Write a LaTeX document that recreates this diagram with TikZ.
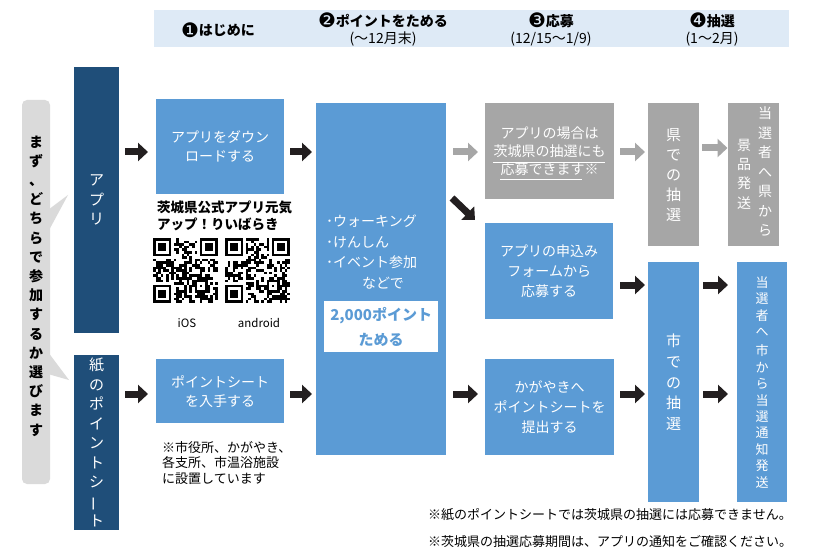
\documentclass[tikz,border=0pt]{standalone}
\usepackage{fontspec}
\setmainfont{Noto Sans CJK JP}
\newfontfamily\djv{DejaVu Sans}
\usetikzlibrary{arrows.meta}
\definecolor{hdrc}{HTML}{DEEAF6}
\definecolor{dblue}{HTML}{1F4E79}
\definecolor{mblue}{HTML}{5B9BD5}
\definecolor{mgray}{HTML}{A6A6A6}
\definecolor{lgray}{HTML}{DADADA}
\definecolor{ablk}{HTML}{231F20}
\newcommand\myqr[3]{%
  \pgfmathsetseed{#3}%
  \begin{scope}[shift={(#1,#2)},x=2.6pt,y=-2.6pt]
    \foreach \i in {0,...,24}{\foreach \j in {0,...,24}{%
      \pgfmathsetmacro\qrr{rnd}%
      \ifdim\qrr pt<0.5pt \fill[black] (\i,\j) rectangle ++(1.02,1.02);\fi}}
    \fill[white] (0,0) rectangle (8,8);
    \fill[white] (17,0) rectangle (25,8);
    \fill[white] (0,17) rectangle (8,25);
    \foreach \a/\b in {0/0,18/0,0/18}{%
      \fill[black] (\a,\b) rectangle ++(7,7);
      \fill[white] (\a+1,\b+1) rectangle ++(5,5);
      \fill[black] (\a+2,\b+2) rectangle ++(3,3);}
    \fill[black] (16,16) rectangle ++(5,5);
    \fill[white] (17,17) rectangle ++(3,3);
    \fill[black] (18,18) rectangle ++(1,1);
  \end{scope}}
\newcommand\cnum[1]{\raisebox{-1.5pt}{\djv\fontsize{20}{20}\selectfont #1}}
\begin{document}
\begin{tikzpicture}[x=1pt,y=-1pt,
  box/.style={rectangle, inner sep=0pt, anchor=north west, text=white, align=center,
    font=\fontsize{14}{19}\selectfont},
  bluebox/.style={box, fill=mblue},
  graybox/.style={box, fill=mgray},
  darkbox/.style={box, fill=dblue, font=\fontsize{15}{19.5}\selectfont},
  vtxt/.style={text=white, align=center, inner sep=0pt},
  hdtxt/.style={align=center, inner sep=0pt, font=\fontsize{14}{17}\selectfont},
  plain/.style={align=left, inner sep=0pt, text=black},
  blk/.style={draw=ablk, line width=7pt, -{Triangle[width=18pt,length=10pt]}},
  gry/.style={blk, draw=mgray}]
\useasboundingbox (0,0) rectangle (832,553);
\fill[white] (0,0) rectangle (832,553);

% header
\node[fill=hdrc, inner sep=0pt, minimum width=635pt, minimum height=37pt, anchor=north west] (hdr) at (154,10) {};
\node[hdtxt] (h1) at (218,30) {\cnum{❶}\bfseries はじめに};
\node[hdtxt] (h2) at (383,29.5) {\cnum{❷}\textbf{ポイントをためる}\\(〜12月末)};
\node[hdtxt] (h3) at (551,29.5) {\cnum{❸}\textbf{応募}\\(12/15〜1/9)};
\node[hdtxt] (h4) at (712,29.5) {\cnum{❹}\textbf{抽選}\\(1〜2月)};

% left bubble
\fill[lgray, rounded corners=5pt] (22,100) rectangle (50,484);
\fill[lgray] (48,210) -- (68,195) -- (48,232) -- cycle;
\fill[lgray] (48,352) -- (69,380) -- (48,374) -- cycle;
\node[align=center, inner sep=0pt, font=\fontsize{14}{19.2}\selectfont\bfseries] (choose) at (36,286)
  {ま\\ず\\、\\ど\\ち\\ら\\で\\参\\加\\す\\る\\か\\選\\び\\ま\\す};

% dark boxes
\node[darkbox, minimum width=45pt, minimum height=266pt] (app) at (74,67) {ア\\プ\\リ};
\node[darkbox, minimum width=45pt, minimum height=175pt] (paper) at (74,355)
  {紙\\の\\ポ\\イ\\ン\\ト\\シ\\\rotatebox[origin=c]{90}{ー}\\ト};

% column 1
\node[bluebox, minimum width=128pt, minimum height=95pt] (dl) at (156,99) {アプリをダウン\\ロードする};
\node[plain, anchor=west, font=\fontsize{13.5}{17}\selectfont\bfseries] (qrt) at (157,216) {茨城県公式アプリ元気\\アップ！りいばらき};
\myqr{153}{238}{11}
\myqr{225}{238}{29}
\node[inner sep=0pt, font=\fontsize{11.5}{11.5}\selectfont] (ios) at (187,323) {iOS};
\node[inner sep=0pt, font=\fontsize{11.5}{11.5}\selectfont] (andr) at (259,323) {android};

\node[bluebox, minimum width=128pt, minimum height=64pt] (get) at (156,359) {ポイントシート\\を入手する};
\node[plain, anchor=west, font=\fontsize{13}{15.8}\selectfont] (note) at (162,463)
  {※市役所、かがやき、\\各支所、市温浴施設\\に設置しています};

% column 2
\node[bluebox, minimum width=130pt, minimum height=352pt] (tall) at (316,103) {};
\node[align=left, inner sep=0pt, text=white, anchor=west, font=\fontsize{14}{20.3}\selectfont] (acts) at (326,242)
  {･ウォーキング\\･けんしん\\･イベント参加};
\node[inner sep=0pt, text=white, font=\fontsize{14}{14}\selectfont] (nado) at (383,283) {などで};
\node[fill=white, inner sep=0pt, minimum width=114pt, minimum height=51pt, anchor=north west, align=center,
  text=mblue, font=\fontsize{15}{25}\selectfont\bfseries] (goal) at (324,301) {2,000ポイント\\ためる};

% column 3
\node[graybox, minimum width=129pt, minimum height=96pt, font=\fontsize{14}{18}\selectfont] (kenapp) at (485,103)
  {アプリの場合は\\茨城県の抽選にも\\応募できます※};
\draw[white, line width=1.6pt] (493,162.5) -- (605,162.5);
\draw[white, line width=1.6pt] (500,179.5) -- (582,179.5);
\node[bluebox, minimum width=128pt, minimum height=96pt, font=\fontsize{14}{20}\selectfont] (form) at (485,223)
  {アプリの申込み\\フォームから\\応募する};
\node[bluebox, minimum width=129pt, minimum height=96pt, font=\fontsize{14}{20}\selectfont] (kag) at (485,359)
  {かがやきへ\\ポイントシートを\\提出する};

% column 4
\node[graybox, minimum width=51pt, minimum height=143pt, font=\fontsize{15}{20}\selectfont] (kendraw) at (648,103)
  {県\\で\\の\\抽\\選};
\node[graybox, minimum width=51pt, minimum height=143pt] (kenprize) at (728,103) {};
\node[vtxt, font=\fontsize{14}{19.5}\selectfont] (kp1) at (765,172) {当\\選\\者\\へ\\県\\か\\ら};
\node[vtxt, font=\fontsize{14}{19.3}\selectfont] (kp2) at (744,174) {景\\品\\発\\送};
\node[bluebox, minimum width=51pt, minimum height=240pt, font=\fontsize{15}{20.7}\selectfont] (citydraw) at (648,262)
  {市\\で\\の\\抽\\選};
\node[bluebox, minimum width=50pt, minimum height=240pt, font=\fontsize{13}{16.4}\selectfont] (cityprize) at (737,262)
  {当\\選\\者\\へ\\[3pt]市\\か\\ら\\当\\選\\通\\知\\発\\送};

% footnotes
\node[plain, anchor=west, font=\fontsize{13}{13}\selectfont] (fn1) at (428,515) {※紙のポイントシートでは茨城県の抽選には応募できません。};
\node[plain, anchor=west, font=\fontsize{13}{13}\selectfont] (fn2) at (428,542) {※茨城県の抽選応募期間は、アプリの通知をご確認ください。};

% arrows
\coordinate (r1) at (0,152);
\coordinate (r2) at (0,394);
\coordinate (r3) at (0,285);
\coordinate (rk) at (0,148);
\coordinate (d1) at (452,198);
\coordinate (d2) at (475,220);
\draw[blk, shorten <=6pt, shorten >=8pt] (app.east|-r1) -- (dl.west|-r1);
\draw[blk, shorten <=6pt, shorten >=8pt] (paper.east|-r2) -- (get.west|-r2);
\draw[blk, shorten <=6pt, shorten >=4pt] (dl.east|-r1) -- (tall.west|-r1);
\draw[blk, shorten <=6pt, shorten >=4pt] (get.east|-r2) -- (tall.west|-r2);
\draw[gry, shorten <=7pt, shorten >=7pt] (tall.east|-r1) -- (kenapp.west|-r1);
\draw[blk] (d1) -- (d2);
\draw[blk, shorten <=7pt, shorten >=7pt] (tall.east|-r2) -- (kag.west|-r2);
\draw[gry, shorten <=6pt, shorten >=3pt] (kenapp.east|-r1) -- (kendraw.west|-r1);
\draw[gry, shorten <=3pt, shorten >=0.5pt] (kendraw.east|-rk) -- (kenprize.west|-rk);
\draw[blk, shorten <=7pt, shorten >=3pt] (form.east|-r3) -- (citydraw.west|-r3);
\draw[blk, shorten <=6pt, shorten >=3pt] (kag.east|-r2) -- (citydraw.west|-r2);
\draw[blk, shorten <=4pt, shorten >=9pt] (citydraw.east|-r3) -- (cityprize.west|-r3);
\draw[blk, shorten <=4pt, shorten >=9pt] (citydraw.east|-r2) -- (cityprize.west|-r2);
\end{tikzpicture}
\end{document}
